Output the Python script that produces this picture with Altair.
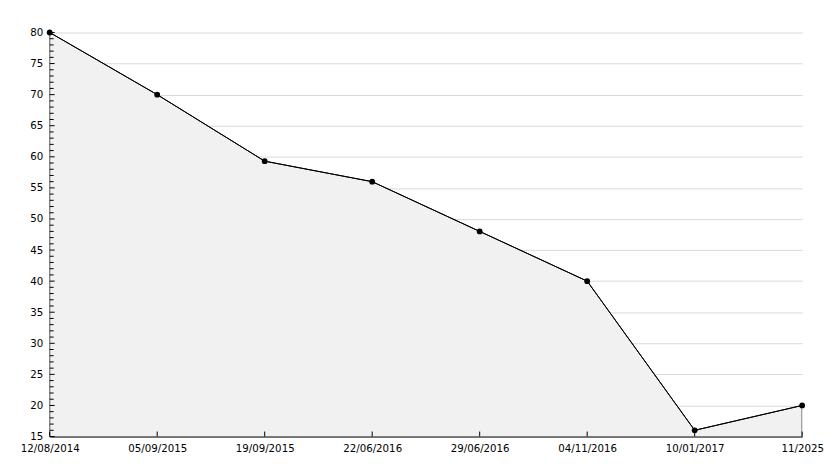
import altair as alt
import pandas as pd

dates = ["12/08/2014", "05/09/2015", "19/09/2015", "22/06/2016",
         "29/06/2016", "04/11/2016", "10/01/2017", "11/2025"]
values = [80, 70, 59.3, 56, 48, 40, 16, 20]

major_ticks = list(range(15, 81, 5))
minor_ticks = [v for v in range(16, 80) if v % 5 != 0]

W, H = 755, 407

df = pd.DataFrame({"date": dates, "value": values})
ticks_major = pd.DataFrame({"value": major_ticks})
ticks_minor = pd.DataFrame({"value": minor_ticks})

xscale = alt.Scale(type="point", padding=0, domain=dates)
xaxis = alt.Axis(title=None, labelAngle=0, ticks=False, grid=False,
                 domainColor="black", labelPadding=7,
                 labelOverlap=False, labelFlush=False, zindex=1,
                 labelFont="DejaVu Sans", labelFontSize=10.3,
                 labelColor="black")
yscale = alt.Scale(domain=[15, 80], nice=False, zero=False)
yaxis = alt.Axis(title=None, values=major_ticks, ticks=False, grid=True,
                 gridColor="#dadada", gridWidth=1, domainColor="black",
                 labelPadding=7, labelOverlap=False, labelFlush=False,
                 labelFont="DejaVu Sans", labelFontSize=10.3, labelColor="black")

xenc = alt.X("date:N", sort=dates, scale=xscale, axis=xaxis)
yenc = alt.Y("value:Q", scale=yscale, axis=yaxis)

base = alt.Chart(df)

area = base.mark_area(color="#f1f1f1", stroke="black", strokeWidth=1,
                      opacity=1, clip=True).encode(x=xenc, y=yenc)
line = base.mark_line(color="black", strokeWidth=1).encode(x=xenc, y=yenc)
pts = base.mark_point(shape="circle", filled=True, color="black", size=34,
                      opacity=1).encode(x=xenc, y=yenc)
xticks = base.mark_rule(color="black", strokeWidth=1).encode(
    x=xenc, y=alt.value(H), y2=alt.value(H - 5))

ymaj = alt.Chart(ticks_major).mark_rule(color="black", strokeWidth=1).encode(
    x=alt.value(0), x2=alt.value(5), y=yenc)
ymin = alt.Chart(ticks_minor).mark_rule(color="black", strokeWidth=1).encode(
    x=alt.value(0), x2=alt.value(4), y=yenc)

chart = alt.layer(area, line, ymaj, ymin, xticks, pts).properties(
    width=758, height=H,
    autosize=alt.AutoSizeParams(type="none"),
    padding={"left": 42, "top": 23, "right": 24, "bottom": 25},
    background="white",
).configure_view(strokeWidth=0)

chart.save("out.html", embed_options={"renderer": "svg", "actions": False})
